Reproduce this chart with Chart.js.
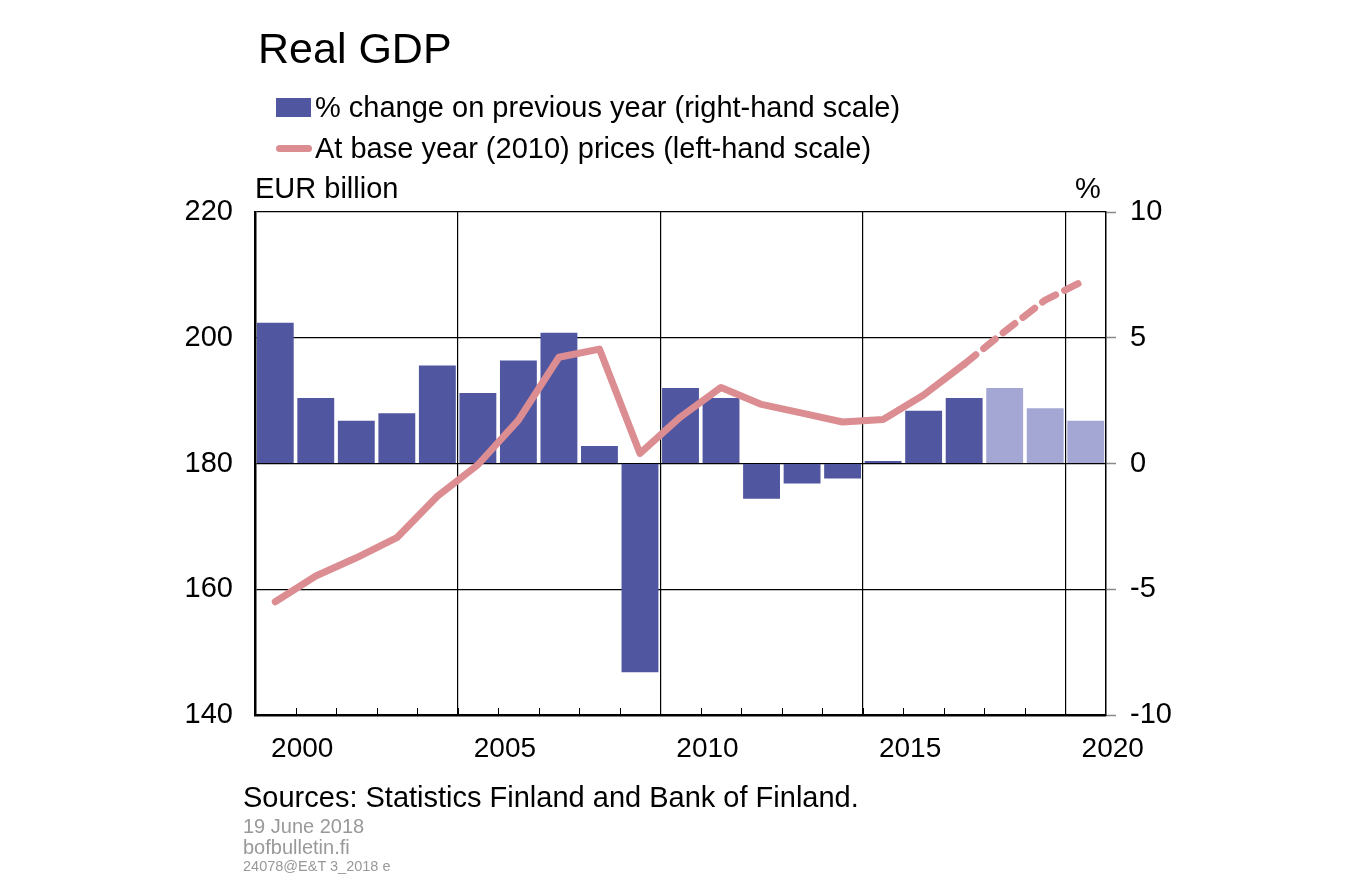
<!DOCTYPE html>
<html>
<head>
<meta charset="utf-8">
<script src="https://cdn.jsdelivr.net/npm/chart.js@4/dist/chart.umd.min.js"></script>
<style>
  html, body { margin:0; padding:0; background:#fff; }
  body { width:1348px; height:880px; position:relative; overflow:hidden; font-family:"Liberation Sans", Arial, sans-serif; }
  #c { position:absolute; left:0; top:0; }
  .t { position:absolute; line-height:1; white-space:nowrap; color:#000; }
</style>
</head>
<body>
<canvas id="c" width="1348" height="880"></canvas>
<div class="t" style="left:258px; top:27px; font-size:43px;">Real GDP</div>
<div style="position:absolute; left:276px; top:98px; width:35px; height:19px; background:#5156a0;"></div>
<div class="t" style="left:315px; top:93px; font-size:29px;">% change on previous year (right-hand scale)</div>
<div style="position:absolute; left:276px; top:145px; width:36px; height:7px; border-radius:4px; background:#db8d91;"></div>
<div class="t" style="left:315px; top:134px; font-size:29px;">At base year (2010) prices (left-hand scale)</div>
<div class="t" style="left:255px; top:174px; font-size:29px;">EUR billion</div>
<div class="t" style="left:1075px; top:174px; font-size:29px;">%</div>
<div class="t" style="left:243px; top:783px; font-size:29px;">Sources: Statistics Finland and Bank of Finland.</div>
<div class="t" style="left:243px; top:816px; font-size:20px; color:#999;">19 June 2018</div>
<div class="t" style="left:243px; top:837px; font-size:20px; color:#999;">bofbulletin.fi</div>
<div class="t" style="left:243px; top:859px; font-size:14.5px; color:#999;">24078@E&amp;T 3_2018 e</div>
<script>
const years = ["2000","2001","2002","2003","2004","2005","2006","2007","2008","2009","2010","2011","2012","2013","2014","2015","2016","2017","2018","2019","2020"];
const pctChange = [5.6, 2.6, 1.7, 2.0, 3.9, 2.8, 4.1, 5.2, 0.7, -8.3, 3.0, 2.6, -1.4, -0.8, -0.6, 0.1, 2.1, 2.6, 3.0, 2.2, 1.7];
const gdpLevel = [158.0, 162.1, 165.0, 168.2, 174.8, 179.8, 186.9, 196.9, 198.2, 181.6, 187.4, 192.1, 189.4, 188.0, 186.6, 187.0, 190.9, 195.8, 201.0, 206.0, 209.2];
const dashFrom = 17;      // line is dashed from this index onwards
const lightBarsFrom = 18; // forecast bars (lighter colour) from this index
const leftTicks = [140, 160, 180, 200, 220];
const rightTicks = [-10, -5, 0, 5, 10];

const DARK = '#5156a0', LIGHT = '#a4a6d3', PINK = '#db8d91';
const FONT = "'Liberation Sans', Arial, sans-serif";

const innerTicks = {
  id: 'innerTicks',
  afterDatasetsDraw(chart) {
    const x = chart.scales.x, ctx = chart.ctx, bottom = chart.chartArea.bottom;
    ctx.save();
    ctx.strokeStyle = '#000';
    ctx.lineWidth = 1;
    for (let i = 1; i < years.length; i++) {
      const px = Math.round((x.getPixelForValue(i - 1) + x.getPixelForValue(i)) / 2) + 0.5;
      ctx.beginPath();
      ctx.moveTo(px, bottom);
      ctx.lineTo(px, bottom - 7);
      ctx.stroke();
    }
    ctx.restore();
  }
};

new Chart(document.getElementById('c'), {
  data: {
    labels: years,
    datasets: [
      {
        type: 'line',
        label: 'At base year (2010) prices (left-hand scale)',
        data: gdpLevel,
        yAxisID: 'yL',
        borderColor: PINK,
        borderWidth: 7,
        pointRadius: 0,
        tension: 0,
        borderCapStyle: 'round',
        borderJoinStyle: 'round',
        segment: {
          borderDash: c => c.p0DataIndex >= dashFrom ? [15, 10] : undefined
        },
        order: 0
      },
      {
        type: 'bar',
        label: '% change on previous year (right-hand scale)',
        data: pctChange,
        yAxisID: 'yR',
        backgroundColor: pctChange.map((v, i) => i >= lightBarsFrom ? LIGHT : DARK),
        barPercentage: 0.91,
        categoryPercentage: 1.0,
        order: 1
      }
    ]
  },
  options: {
    responsive: false,
    animation: false,
    events: [],
    layout: { padding: { left: 0, right: 0, top: 212, bottom: 0 } },
    plugins: { legend: { display: false }, tooltip: { enabled: false }, title: { display: false } },
    scales: {
      x: {
        type: 'category',
        offset: true,
        grid: {
          offset: true,
          drawTicks: false,
          lineWidth: 1.2,
          color: c => (c.index > 0 && c.index % 5 === 0 && c.index < years.length) ? '#000' : 'rgba(0,0,0,0)'
        },
        border: { display: true, color: '#000', width: 2.5 },
        ticks: {
          autoSkip: false,
          maxRotation: 0,
          padding: 17,
          labelOffset: 27,
          color: '#000',
          font: { family: FONT, size: 28 },
          callback: (v, i) => (parseInt(years[i]) % 5 === 0 ? years[i] : '')
        },
        afterFit: s => { s.height = 165; }
      },
      yL: {
        type: 'linear',
        position: 'left',
        min: 140, max: 220,
        afterBuildTicks: s => { s.ticks = leftTicks.map(v => ({ value: v })); },
        grid: { color: '#000', lineWidth: 1.2, drawTicks: false },
        border: { display: true, color: '#000', width: 2.5 },
        ticks: { padding: 22, color: '#000', font: { family: FONT, size: 29 } },
        afterFit: s => { s.width = 255; }
      },
      yR: {
        type: 'linear',
        position: 'right',
        min: -10, max: 10,
        afterBuildTicks: s => { s.ticks = rightTicks.map(v => ({ value: v })); },
        grid: { drawOnChartArea: false, drawTicks: true, tickLength: 10, tickColor: '#888', tickWidth: 1.5 },
        border: { display: true, color: '#000', width: 1.5 },
        ticks: { padding: 14, color: '#000', font: { family: FONT, size: 29 } },
        afterFit: s => { s.width = 242; }
      }
    }
  },
  plugins: [innerTicks]
});
</script>
</body>
</html>
